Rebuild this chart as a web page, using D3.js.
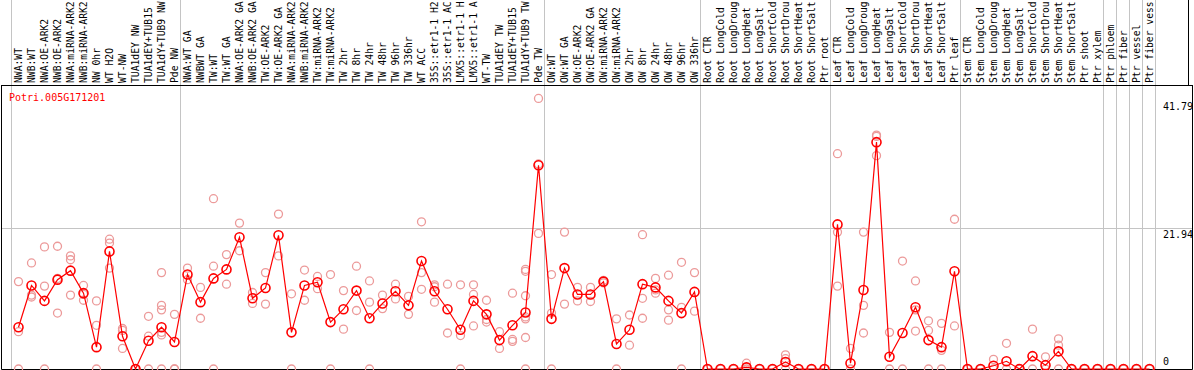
<!DOCTYPE html>
<html>
<head>
<meta charset="utf-8">
<script src="https://cdn.jsdelivr.net/npm/d3@7"></script>
<style>
    body { margin: 0; background: #fff; }
    text { font-family: "DejaVu Sans Mono", monospace; }
</style>
</head>
<body>
<script>
// expression profile of one gene across the sample columns

const geneName = 'Potri.005G171201';

const samples = [
    'NWA:WT', 'NWB:WT', 'NWA:OE-ARK2', 'NWB:OE-ARK2', 'NWA:miRNA-ARK2', 'NWB:miRNA-ARK2', 'NW 0hr', 'WT H2O', 'WT-NW',
    'TUA1dEY NW', 'TUA1dEY+TUB15 NW', 'TUA1dY+TUB9 NW', 'Pde NW',
    'NWA:WT GA', 'NWBWT GA', 'TW:WT', 'TW:WT GA', 'NWA:OE-ARK2 GA', 'NWB:OE-ARK2 GA', 'TW:OE-ARK2', 'TW:OE-ARK2 GA',
    'NWA:miRNA-ARK2', 'NWB:miRNA-ARK2', 'TW:miRNA-ARK2', 'TW:miRNA-ARK2', 'TW 2hr', 'TW 8hr', 'TW 24hr', 'TW 48hr',
    'TW 96hr', 'TW 336hr', 'WT ACC', '35S::etr1-1 H2O', '35S::etr1-1 ACC', 'LMX5::etr1-1 H2O', 'LMX5::etr1-1 ACC',
    'WT-TW', 'TUA1dEY TW', 'TUA1dEY+TUB15 TW', 'TUA1dY+TUB9 TW', 'Pde TW',
    'OW:WT', 'OW:WT GA', 'OW:OE-ARK2', 'OW:OE-ARK2 GA', 'OW:miRNA-ARK2', 'OW:miRNA-ARK2', 'OW 2hr', 'OW 8hr',
    'OW 24hr', 'OW 48hr', 'OW 96hr', 'OW 336hr',
    'Root CTR', 'Root LongCold', 'Root LongDrought', 'Root LongHeat', 'Root LongSalt', 'Root ShortCold',
    'Root ShortDrought', 'Root ShortHeat', 'Root ShortSalt', 'Ptr root',
    'Leaf CTR', 'Leaf LongCold', 'Leaf LongDrought', 'Leaf LongHeat', 'Leaf LongSalt', 'Leaf ShortCold',
    'Leaf ShortDrought', 'Leaf ShortHeat', 'Leaf ShortSalt', 'Ptr leaf',
    'Stem CTR', 'Stem LongCold', 'Stem LongDrought', 'Stem LongHeat', 'Stem LongSalt', 'Stem ShortCold',
    'Stem ShortDrought', 'Stem ShortHeat', 'Stem ShortSalt', 'Ptr shoot', 'Ptr xylem',
    'Ptr phloem', 'Ptr fiber', 'Ptr vessel', 'Ptr fiber vessel'
];

// mean value per sample
const means = [
    6.5, 13.0, 10.6, 13.9, 15.3, 11.8, 3.4, 18.3, 5.1, 0, 4.4, 6.5, 4.2,
    14.7, 10.4, 14.1, 15.5, 20.5, 11.0, 12.6, 20.8, 5.7, 13.0, 13.5, 7.3, 9.3, 12.2, 7.9, 10.2,
    12.1, 9.9, 16.8, 12.1, 9.3, 6.1, 10.6, 8.5, 4.5, 6.8, 8.8, 31.7,
    7.8, 15.7, 11.6, 11.6, 13.6, 3.9, 6.1, 13.2, 12.7, 10.6, 8.7, 12.0,
    0, 0, 0, 0.26, 0, 0, 1.1, 0, 0, 0,
    22.5, 0.9, 12.3, 35.3, 1.9, 5.6, 9.6, 4.5, 3.4, 15.2,
    0, 0, 0.5, 1.2, 0, 2.0, 0.6, 2.75, 0, 0, 0,
    0, 0, 0, 0
];

// individual replicates per sample
const replicates = [
    [13.6, 5.8, 0], [16.5, 11.5, 11.2], [19.0, 12.9, 0], [19.1, 8.7, 14.1], [17.6, 17.0, 11.5],
    [13.0, 11.6, 10.7], [10.6, 6.8, 0], [20.2, 19.6, 15.7], [6.3, 6.0, 3.2], [0, 0, 0],
    [8.2, 5.1, 0], [15.0, 9.9, 9.2, 5.7, 5.3, 0], [8.5, 0, 0],
    [15.7, 13.9], [12.7, 7.9], [26.5, 16.0, 0], [17.8, 13.2], [22.7, 18.4], [11.9, 10.2], [15.0, 10.1],
    [24.1, 17.6], [11.7, 0], [15.4, 10.7], [14.4, 12.5], [14.7, 0], [12.2, 6.2], [16.0, 9.1],
    [13.7, 10.4, 0], [11.5, 9.4], [13.2, 10.9], [11.3, 8.5], [22.9, 15.0, 12.4], [13.1, 12.8, 10.4],
    [13.2, 5.6], [13.1, 5.2, 0], [13.1, 11.6, 6.7], [10.7, 7.7, 7.3], [5.8, 3.2], [11.8, 4.6, 4.3],
    [15.5, 15.2, 11.4, 8.1, 7.8, 4.9, 0], [42.1, 31.9, 21.1],
    [14.7, 8.7, 0], [21.3, 10.1], [12.7, 10.6], [12.7, 10.5], [13.8, 13.4], [7.8, 0], [8.4, 3.7],
    [20.9, 11.0, 7.9], [14.1, 12.3, 11.8], [14.6, 9.2, 7.6], [16.6, 9.6, 0], [15.0, 9.0],
    [0, 0], [0, 0], [0, 0], [0.9, 0], [0, 0], [0, 0], [2.2, 1.6, 0], [0, 0], [0, 0], [0, 0],
    [33.5, 21.3, 12.9], [3.2, 0], [21.3, 9.9, 5.6], [36.4, 36.2, 33.2], [5.7, 0], [16.8, 0],
    [13.7, 9.2, 5.9], [7.5, 6.0, 0], [7.1, 2.9, 0], [23.3, 6.7],
    [0, 0], [0, 0], [1.5, 0], [4.0, 0], [0, 0], [6.2, 0], [1.9, 0], [4.7, 3.7, 0], [0, 0], [0, 0], [0, 0],
    [0, 0], [0, 0], [0, 0], [0, 0]
];

// index of the first sample of each block, plus the end
const blockStarts = [0, 13, 41, 53, 63, 73, 84, 85, 86, 87, 88];

const yTicks = [0, 21.94, 41.79];
const yMax = 44.19;

class profileChart {

    constructor() {
        this.width = 1194;
        this.height = 370;
        this.labelBottom = 85;
        this.plotBottom = 369;
        this.plotRight = 1192;
        this.colWidth = 13;
        this.firstCol = 12;

        this.svg = d3.select('body').append('svg')
            .attr('width', this.width)
            .attr('height', this.height);
    }

    draw() {
        let xScale = d3.scaleBand()
            .domain(d3.range(samples.length))
            .range([this.firstCol, this.firstCol + this.colWidth * samples.length])
            .padding(0);

        let yScale = d3.scaleLinear()
            .domain([0, yMax])
            .range([this.plotBottom, this.labelBottom]);

        let cx = i => xScale(i) + xScale.bandwidth() / 2;

        // horizontal grid (the middle tick only)
        this.svg.append('line')
            .attr('x1', 1).attr('x2', this.plotRight)
            .attr('y1', Math.round(yScale(yTicks[1])) + 0.5)
            .attr('y2', Math.round(yScale(yTicks[1])) + 0.5)
            .attr('stroke', '#c4c4c4');

        // block separators
        this.svg.append('g')
            .selectAll('line')
            .data(blockStarts)
            .enter()
            .append('line')
            .attr('x1', d => Math.round(this.firstCol + this.colWidth * d) - 0.5)
            .attr('x2', d => Math.round(this.firstCol + this.colWidth * d) - 0.5)
            .attr('y1', 0)
            .attr('y2', this.plotBottom)
            .attr('stroke', '#c4c4c4');

        // frame
        this.svg.append('path')
            .attr('d', 'M1.5,' + this.labelBottom + 'V' + (this.plotBottom + 0.5)
                + 'H' + (this.plotRight + 0.5) + 'V' + this.labelBottom)
            .attr('fill', 'none')
            .attr('stroke', 'black');
        this.svg.append('line')
            .attr('x1', 1).attr('x2', this.plotRight + 1)
            .attr('y1', this.labelBottom + 0.5).attr('y2', this.labelBottom + 0.5)
            .attr('stroke', 'black');
        this.svg.append('line')
            .attr('x1', 1188.5).attr('x2', 1188.5)
            .attr('y1', 0).attr('y2', this.labelBottom)
            .attr('stroke', 'black');

        // sample labels
        this.svg.append('g')
            .selectAll('text')
            .data(samples)
            .enter()
            .append('text')
            .attr('transform', (d, i) => 'translate(' + (cx(i) + 3.5) + ',' + (this.labelBottom - 2) + ') rotate(-90)')
            .attr('font-size', '9.7px')
            .attr('fill', 'black')
            .text(d => d.slice(0, 14));

        // y tick labels at the right
        this.svg.append('g')
            .selectAll('text')
            .data(yTicks)
            .enter()
            .append('text')
            .attr('x', 1163)
            .attr('y', d => Math.min(yScale(d) + 10, this.plotBottom - 4))
            .attr('font-size', '10px')
            .attr('fill', 'black')
            .text(d => d === 0 ? '0' : d.toFixed(2));

        // title
        this.svg.append('text')
            .attr('x', 9)
            .attr('y', 101)
            .attr('font-size', '10px')
            .attr('fill', 'red')
            .text(geneName);

        // replicate points
        let reps = [];
        replicates.forEach((arr, i) => arr.forEach(v => reps.push({ 'i': i, 'v': v })));

        this.svg.append('g')
            .selectAll('circle')
            .data(reps)
            .enter()
            .append('circle')
            .attr('cx', d => cx(d.i))
            .attr('cy', d => yScale(d.v))
            .attr('r', 4)
            .attr('fill', 'none')
            .attr('stroke', '#ec9a9a')
            .attr('stroke-width', 1.3);

        // mean line
        let line = d3.line()
            .x((d, i) => cx(i))
            .y(d => yScale(d));

        this.svg.append('path')
            .datum(means)
            .attr('fill', 'none')
            .attr('stroke', 'red')
            .attr('stroke-width', 1.2)
            .attr('d', line);

        this.svg.append('g')
            .selectAll('circle')
            .data(means)
            .enter()
            .append('circle')
            .attr('cx', (d, i) => cx(i))
            .attr('cy', d => yScale(d))
            .attr('r', 4.5)
            .attr('fill', 'none')
            .attr('stroke', 'red')
            .attr('stroke-width', 1.6);
    }
}

let chart = new profileChart();
chart.draw();
</script>
</body>
</html>
